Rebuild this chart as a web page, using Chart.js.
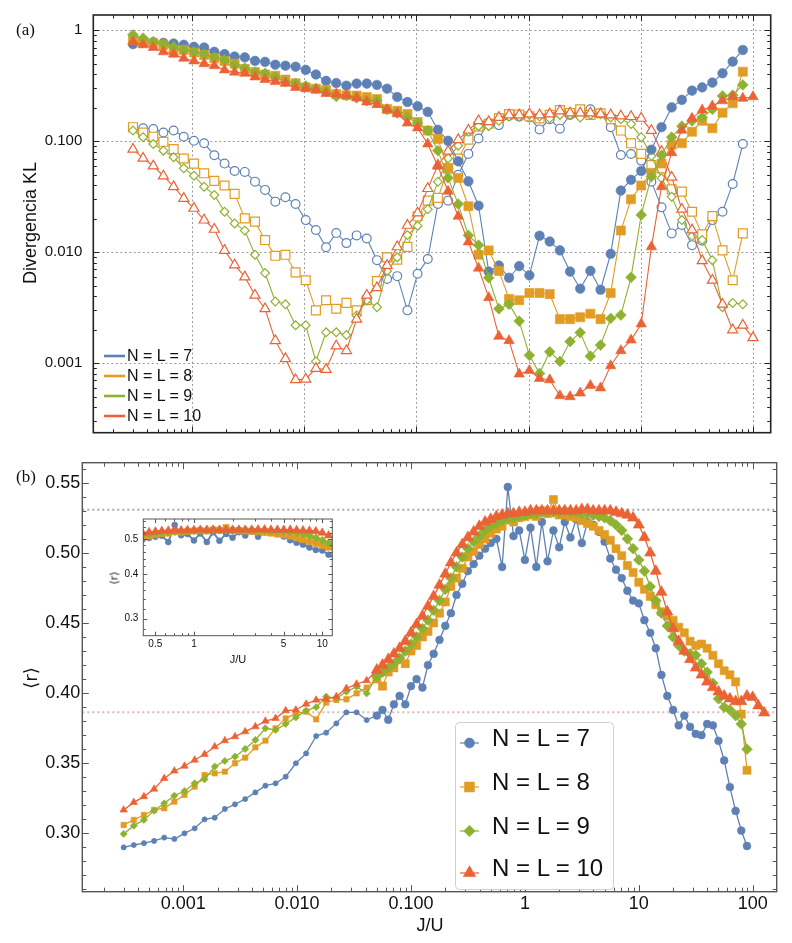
<!DOCTYPE html>
<html>
<head>
<meta charset="utf-8">
<script src="https://cdn.jsdelivr.net/npm/chart.js@4.4.1/dist/chart.umd.min.js"></script>
<style>
  body { margin: 0; background: #fff; }
  #page { position: relative; width: 792px; height: 943px; overflow: hidden;
          font-family: "Liberation Sans", Arial, Helvetica, sans-serif; color: #111; }
  canvas { position: absolute; }
  .t { position: absolute; white-space: nowrap; line-height: 1; }
  .rot { transform: translate(-50%, -50%) rotate(-90deg); }
  .ctr { transform: translate(-50%, -50%); }
  .serif { font-family: "Liberation Serif", "DejaVu Serif", serif; }
</style>
</head>
<body>
<div id="page">
  <canvas id="ca" width="792" height="445" style="left:0;top:0"></canvas>
  <canvas id="cb" width="792" height="498" style="left:0;top:445px"></canvas>
  <canvas id="ci" width="240" height="170" style="left:100px;top:505px"></canvas>

  <div class="t serif" style="left:16px;top:21px;font-size:17px">(a)</div>
  <div class="t serif" style="left:16px;top:468px;font-size:17px">(b)</div>
  <div class="t rot" style="left:30px;top:223px;font-size:18px">Divergencia KL</div>
  <div class="t rot" style="left:31px;top:678px;font-size:18px;font-family:'DejaVu Sans','Liberation Sans',sans-serif">⟨r⟩</div>
  <div class="t ctr" style="left:430px;top:925px;font-size:18px">J/U</div>
  <div class="t ctr" style="left:238px;top:659px;font-size:11px">J/U</div>
  <div class="t rot" style="left:114px;top:578px;font-size:11px;font-family:'DejaVu Sans','Liberation Sans',sans-serif">⟨r⟩</div>

  <div class="t" style="left:127px;top:348px;font-size:16px">N = L = 7</div>
  <div class="t" style="left:127px;top:368px;font-size:16px">N = L = 8</div>
  <div class="t" style="left:127px;top:388px;font-size:16px">N = L = 9</div>
  <div class="t" style="left:127px;top:408px;font-size:16px">N = L = 10</div>

  <div class="t" style="left:492px;top:726px;font-size:24px">N = L = 7</div>
  <div class="t" style="left:492px;top:770px;font-size:24px">N = L = 8</div>
  <div class="t" style="left:492px;top:814px;font-size:24px">N = L = 9</div>
  <div class="t" style="left:492px;top:856px;font-size:24px">N = L = 10</div>
</div>

<script>
var C7 = '#5E81B5', C8 = '#E19C24', C9 = '#8FB131', C10 = '#EB6235';
var SANS = '"Liberation Sans", Arial, Helvetica, sans-serif';

// ---- panel (a): KL divergence, J/U grid ----
var xa = [0.000300, 0.000369, 0.000455, 0.000560, 0.000690, 0.000850, 0.001047, 0.00129, 0.00159, 0.00196,
  0.00241, 0.00297, 0.00366, 0.00450, 0.00555, 0.00683, 0.00841, 0.01036, 0.01276, 0.01572,
  0.01936, 0.02385, 0.0294, 0.0362, 0.0446, 0.0549, 0.0676, 0.0833, 0.1026, 0.1264,
  0.1556, 0.1917, 0.236, 0.2907, 0.358, 0.441, 0.543, 0.669, 0.824, 1.015,
  1.250, 1.540, 1.897, 2.336, 2.877, 3.544, 4.365, 5.376, 6.622, 8.156,
  10.05, 12.38, 15.24, 18.77, 23.12, 28.48, 35.08, 43.21, 53.21, 65.54, 80.72, 99.4];

var klFilled7 = [0.75, 0.77, 0.78, 0.77, 0.76, 0.74, 0.71, 0.70, 0.64, 0.61, 0.58, 0.57, 0.53, 0.52, 0.49, 0.48, 0.47, 0.44, 0.40, 0.35,
  0.335, 0.317, 0.331, 0.331, 0.322, 0.298, 0.251, 0.226, 0.207, 0.184, 0.127, 0.101, 0.066, 0.0436, 0.0263, 0.0067, 0.0076, 0.0059, 0.0075, 0.0062,
  0.0141, 0.0125, 0.0104, 0.0067, 0.0047, 0.0068, 0.0046, 0.0097, 0.036, 0.045, 0.054, 0.084, 0.134, 0.202, 0.236, 0.286, 0.306, 0.338, 0.41, 0.522, 0.665];
var klFilled8 = [0.82, 0.79, 0.77, 0.74, 0.67, 0.665, 0.63, 0.60, 0.56, 0.53, 0.50, 0.45, 0.42, 0.40, 0.39, 0.36, 0.333, 0.306, 0.298, 0.29,
  0.267, 0.26, 0.258, 0.25, 0.24, 0.195, 0.188, 0.176, 0.149, 0.125, 0.105, 0.0575, 0.0468, 0.026, 0.0095, 0.0104, 0.0068, 0.0038, 0.0037, 0.0043,
  0.0043, 0.0042, 0.0025, 0.0025, 0.0026, 0.0028, 0.0025, 0.0043, 0.0157, 0.030, 0.040, 0.052, 0.063, 0.093, 0.096, 0.122, 0.153, 0.131, 0.181, 0.22, 0.424];
var klFilled9 = [0.91, 0.85, 0.79, 0.76, 0.71, 0.665, 0.64, 0.61, 0.57, 0.54, 0.49, 0.455, 0.42, 0.41, 0.38, 0.345, 0.333, 0.315, 0.30, 0.28,
  0.254, 0.258, 0.246, 0.232, 0.232, 0.193, 0.18, 0.164, 0.146, 0.125, 0.0824, 0.0468, 0.0272, 0.0142, 0.0116, 0.0059, 0.0031, 0.0034, 0.0024, 0.00118,
  0.00081, 0.00127, 0.00104, 0.00157, 0.00189, 0.00116, 0.00146, 0.00254, 0.00272, 0.00595, 0.0217, 0.048, 0.075, 0.109, 0.137, 0.153, 0.164, 0.194, 0.256, 0.26, 0.322];
var klFilled10 = [0.79, 0.74, 0.70, 0.64, 0.61, 0.56, 0.53, 0.50, 0.48, 0.44, 0.42, 0.41, 0.38, 0.36, 0.345, 0.333, 0.306, 0.30, 0.29, 0.27,
  0.267, 0.26, 0.246, 0.226, 0.214, 0.193, 0.177, 0.146, 0.132, 0.0946, 0.0595, 0.0355, 0.0211, 0.0124, 0.0072, 0.0039, 0.00175, 0.0016, 0.0008, 0.00086,
  0.00073, 0.00071, 0.00051, 0.0005, 0.00054, 0.00063, 0.0006, 0.00095, 0.0013, 0.00162, 0.00226, 0.0112, 0.039, 0.079, 0.126, 0.161, 0.191, 0.208, 0.232, 0.252, 0.244, 0.252];

var klOpen7 = [0.131, 0.131, 0.129, 0.12, 0.125, 0.11, 0.101, 0.096, 0.075, 0.063, 0.054, 0.053, 0.0433, 0.0365, 0.0286, 0.0313, 0.0272, 0.0195, 0.0159, 0.0111,
  0.0149, 0.0121, 0.0142, 0.0133, 0.0085, 0.00575, 0.0061, 0.0030, 0.0064, 0.0087, 0.0272, 0.0292, 0.05, 0.077, 0.106, 0.147, 0.14, 0.169, 0.167, 0.164,
  0.128, 0.158, 0.13, 0.173, 0.185, 0.194, 0.179, 0.134, 0.0753, 0.0769, 0.067, 0.0433, 0.0254, 0.0148, 0.0176, 0.0116, 0.0127, 0.0195, 0.0232, 0.0413, 0.0946];
var klOpen8 = [0.134, 0.12, 0.11, 0.099, 0.085, 0.070, 0.063, 0.0515, 0.044, 0.040, 0.0336, 0.0202, 0.0189, 0.0129, 0.0093, 0.0095, 0.0066, 0.0056, 0.0030, 0.0037,
  0.0031, 0.0035, 0.0030, 0.0037, 0.0055, 0.009, 0.0086, 0.0112, 0.0211, 0.0292, 0.0309, 0.0567, 0.0698, 0.1035, 0.136, 0.144, 0.162, 0.176, 0.174, 0.168,
  0.161, 0.173, 0.191, 0.18, 0.194, 0.173, 0.179, 0.158, 0.125, 0.096, 0.077, 0.061, 0.057, 0.037, 0.0352, 0.0232, 0.0145, 0.0212, 0.0104, 0.0056, 0.0148];
var klOpen9 = [0.125, 0.109, 0.0946, 0.0824, 0.0718, 0.0571, 0.049, 0.039, 0.0329, 0.0232, 0.0182, 0.0157, 0.0095, 0.0065, 0.0036, 0.0034, 0.0022, 0.0022, 0.00104, 0.0019,
  0.0019, 0.0018, 0.0027, 0.0037, 0.0032, 0.0068, 0.009, 0.0143, 0.0173, 0.0244, 0.0433, 0.070, 0.0914, 0.122, 0.137, 0.137, 0.153, 0.167, 0.167, 0.173,
  0.167, 0.161, 0.173, 0.173, 0.164, 0.173, 0.175, 0.164, 0.158, 0.143, 0.109, 0.0738, 0.0464, 0.0317, 0.0195, 0.014, 0.0129, 0.0085, 0.0032, 0.0035, 0.0034];
var klOpen10 = [0.0847, 0.0703, 0.060, 0.0487, 0.039, 0.0306, 0.0249, 0.0195, 0.0161, 0.0104, 0.0077, 0.006, 0.0041, 0.0031, 0.0016, 0.0011, 0.00071, 0.00072, 0.0009, 0.00088,
  0.00143, 0.0013, 0.0025, 0.0041, 0.0048, 0.0076, 0.0112, 0.0175, 0.0226, 0.0375, 0.0608, 0.0813, 0.1035, 0.1256, 0.153, 0.15, 0.164, 0.173, 0.173, 0.176,
  0.173, 0.176, 0.188, 0.18, 0.18, 0.18, 0.176, 0.173, 0.169, 0.167, 0.161, 0.125, 0.0808, 0.0474, 0.0244, 0.0159, 0.0084, 0.0056, 0.0034, 0.002, 0.0022, 0.0017];

var klTicks = [0.001, 0.01, 0.1, 1];
var klTickLabels = ['0.001', '0.010', '0.100', '1'];
var jDecades = [0.001, 0.01, 0.1, 1, 10, 100];

// ---- panel (b): <r>, sparse part then dense part ----
var xSparse = [0.000300, 0.000368, 0.000452, 0.000555, 0.000681, 0.000836, 0.001026, 0.00126, 0.00154, 0.00189,
  0.00232, 0.00285, 0.00350, 0.00430, 0.00527, 0.00647, 0.00794, 0.00975, 0.0120, 0.0147,
  0.0180, 0.0221, 0.0271, 0.0333, 0.0408];
var xDense = [0.0501, 0.0562, 0.0631, 0.0708, 0.0794, 0.0891, 0.100, 0.112, 0.126, 0.141, 0.158, 0.178, 0.200, 0.224, 0.251, 0.282,
  0.316, 0.355, 0.398, 0.447, 0.501, 0.562, 0.631, 0.708, 0.794, 0.891, 1.00, 1.12, 1.26, 1.41, 1.58, 1.78, 2.00, 2.24, 2.51, 2.82,
  3.16, 3.55, 3.98, 4.47, 5.01, 5.62, 6.31, 7.08, 7.94, 8.91, 10.0, 11.2, 12.6, 14.1, 15.8, 17.8, 20.0, 22.4, 25.1, 28.2,
  31.6, 35.5, 39.8, 44.7, 50.1, 56.2, 63.1, 70.8, 79.4, 89.1, 100, 112, 126];

var r7Sparse = [0.290, 0.2917, 0.293, 0.2946, 0.297, 0.296, 0.300, 0.3036, 0.310, 0.3112, 0.3174, 0.3207, 0.3245, 0.3292, 0.334, 0.3357,
  0.3404, 0.350, 0.357, 0.3694, 0.3718, 0.3784, 0.3863, 0.3863, 0.3808];
var r8Sparse = [0.306, 0.3096, 0.3131, 0.3167, 0.3179, 0.3226, 0.3274, 0.3333, 0.3416, 0.3428, 0.344, 0.350, 0.354, 0.3613, 0.3661, 0.3749,
  0.382, 0.3856, 0.3868, 0.3813, 0.3932, 0.3951, 0.3956, 0.3998, 0.4039];
var r9Sparse = [0.2996, 0.3055, 0.3096, 0.3162, 0.3214, 0.3269, 0.3302, 0.3357, 0.3385, 0.3476, 0.3516, 0.3547, 0.3602, 0.3666, 0.3749, 0.3737,
  0.378, 0.3827, 0.3875, 0.39, 0.3975, 0.3963, 0.401, 0.4046, 0.3998];
var r10Sparse = [0.3167, 0.3221, 0.3262, 0.3316, 0.3392, 0.3445, 0.348, 0.3523, 0.3564, 0.3618, 0.3661, 0.369, 0.3725, 0.3761, 0.3801, 0.382,
  0.3875, 0.388, 0.3922, 0.3951, 0.3958, 0.3975, 0.4034, 0.4065, 0.4089];

var r7Dense = [0.384, 0.388, 0.381, 0.392, 0.398, 0.392, 0.405, 0.41, 0.404, 0.42, 0.428, 0.438, 0.448, 0.457, 0.47, 0.478, 0.487, 0.492, 0.498, 0.503,
  0.507, 0.51, 0.49, 0.547, 0.512, 0.516, 0.495, 0.518, 0.49, 0.522, 0.494, 0.516, 0.504, 0.522, 0.511, 0.524, 0.507, 0.522, 0.52, 0.515,
  0.508, 0.496, 0.488, 0.482, 0.473, 0.466, 0.464, 0.452, 0.443, 0.432, 0.413, 0.398, 0.388, 0.377, 0.384, 0.376, 0.371, 0.37, 0.378, 0.377,
  0.366, 0.352, 0.333, 0.316, 0.302, 0.291];
var r8Dense = [0.41, 0.405, 0.415, 0.418, 0.424, 0.421, 0.43, 0.434, 0.44, 0.444, 0.45, 0.457, 0.465, 0.476, 0.482, 0.489, 0.497, 0.501, 0.506, 0.51,
  0.514, 0.517, 0.519, 0.524, 0.522, 0.525, 0.526, 0.527, 0.526, 0.53, 0.528, 0.538, 0.527, 0.527, 0.526, 0.525, 0.523, 0.521, 0.519, 0.516,
  0.513, 0.509, 0.503, 0.498, 0.491, 0.486, 0.479, 0.474, 0.469, 0.463, 0.458, 0.455, 0.452, 0.447, 0.443, 0.437, 0.434, 0.435, 0.432, 0.427,
  0.421, 0.416, 0.413, 0.408, 0.385, 0.345];
var r9Dense = [0.412, 0.415, 0.418, 0.421, 0.425, 0.43, 0.435, 0.44, 0.446, 0.452, 0.459, 0.466, 0.474, 0.482, 0.49, 0.497, 0.503, 0.508, 0.512, 0.516,
  0.519, 0.521, 0.523, 0.524, 0.525, 0.526, 0.527, 0.528, 0.528, 0.529, 0.529, 0.529, 0.529, 0.53, 0.529, 0.529, 0.528, 0.528, 0.527, 0.526,
  0.525, 0.523, 0.52, 0.516, 0.51, 0.503, 0.495, 0.487, 0.476, 0.466, 0.457, 0.448, 0.44, 0.434, 0.43, 0.428, 0.427, 0.421, 0.415, 0.407,
  0.396, 0.39, 0.388, 0.384, 0.378, 0.36];
var r10Dense = [0.4165, 0.42, 0.424, 0.428, 0.432, 0.437, 0.443, 0.449, 0.455, 0.462, 0.469, 0.477, 0.485, 0.493, 0.50, 0.506, 0.511, 0.515, 0.519, 0.522,
  0.524, 0.526, 0.527, 0.528, 0.528, 0.529, 0.529, 0.53, 0.53, 0.53, 0.53, 0.53, 0.53, 0.53, 0.53, 0.53, 0.531, 0.531, 0.53, 0.53,
  0.53, 0.53, 0.529, 0.528, 0.527, 0.525, 0.52, 0.511, 0.50, 0.487, 0.472, 0.458, 0.446, 0.437, 0.43, 0.424, 0.418, 0.413, 0.408, 0.404,
  0.401, 0.398, 0.396, 0.394, 0.394, 0.398, 0.397, 0.391, 0.386];

var rTicks = [0.30, 0.35, 0.40, 0.45, 0.50, 0.55];
var rTickLabels = ['0.30', '0.35', '0.40', '0.45', '0.50', '0.55'];
var jTickLabels = ['0.001', '0.010', '0.100', '1', '10', '100'];
var goeValue = 0.5307, poissonValue = 0.3863;

var insetXTicks = [0.5, 1, 5, 10];
var insetXLabels = ['0.5', '1', '5', '10'];
var insetYTicks = [0.3, 0.4, 0.5];
var insetYLabels = ['0.3', '0.4', '0.5'];

var legendNames = ['N = L = 7', 'N = L = 8', 'N = L = 9', 'N = L = 10'];

// ---- helpers ----
function pts(xs, ys) {
  return ys.map(function (v, i) { return { x: xs[i], y: v }; });
}

function within(xs, ys, lo, hi) {
  var out = [];
  ys.forEach(function (v, i) { if (xs[i] >= lo && xs[i] <= hi) out.push({ x: xs[i], y: v }); });
  return out;
}

function series(label, data, color, style, r, open, lw) {
  return {
    label: label, data: data, borderColor: color, backgroundColor: color,
    borderWidth: lw, pointStyle: style, pointRadius: r, pointHoverRadius: r,
    pointBackgroundColor: open ? '#fff' : color, pointBorderColor: color,
    pointBorderWidth: open ? 1.2 : 0.6, fill: false, tension: 0
  };
}

function logMinors(min, max) {
  var out = [];
  for (var e = Math.floor(Math.log10(min)); e <= Math.ceil(Math.log10(max)); e++) {
    for (var m = 2; m <= 9; m++) {
      var v = m * Math.pow(10, e);
      if (v > min && v < max) out.push(v);
    }
  }
  return out;
}

function stepList(a, b, step, skip) {
  var out = [];
  for (var v = a; v <= b + 1e-9; v += step) {
    var r = Math.round(v * 1000) / 1000;
    if (skip.indexOf(r) < 0) out.push(r);
  }
  return out;
}

function guidesPlugin(o) {
  return {
    id: 'guides',
    beforeDatasetsDraw: function (chart) {
      var ctx = chart.ctx, a = chart.chartArea, x = chart.scales.x, y = chart.scales.y;
      ctx.save();
      if (o.fill) {
        ctx.fillStyle = '#fff';
        ctx.fillRect(a.left, a.top, a.right - a.left, a.bottom - a.top);
      }
      ctx.lineWidth = 1;
      ctx.strokeStyle = '#9a9a9a';
      ctx.setLineDash([2, 2.5]);
      (o.gridX || []).forEach(function (v) {
        var px = Math.round(x.getPixelForValue(v)) + 0.5;
        ctx.beginPath(); ctx.moveTo(px, a.top); ctx.lineTo(px, a.bottom); ctx.stroke();
      });
      (o.gridY || []).forEach(function (v) {
        var py = Math.round(y.getPixelForValue(v)) + 0.5;
        ctx.beginPath(); ctx.moveTo(a.left, py); ctx.lineTo(a.right, py); ctx.stroke();
      });
      (o.refs || []).forEach(function (r) {
        var py = y.getPixelForValue(r.value);
        ctx.strokeStyle = r.color; ctx.lineWidth = 2; ctx.setLineDash([2, 3]);
        ctx.beginPath(); ctx.moveTo(a.left, py); ctx.lineTo(a.right, py); ctx.stroke();
      });
      ctx.restore();
    },
    afterDatasetsDraw: function (chart) {
      var ctx = chart.ctx, a = chart.chartArea, x = chart.scales.x, y = chart.scales.y;
      ctx.save();
      ctx.strokeStyle = o.color;
      ctx.lineWidth = 1;
      ctx.beginPath();
      [[o.xMajor, o.major], [o.xMinor, o.minor]].forEach(function (p) {
        p[0].forEach(function (v) {
          var px = Math.round(x.getPixelForValue(v)) + 0.5;
          if (px < a.left || px > a.right) return;
          ctx.moveTo(px, a.bottom); ctx.lineTo(px, a.bottom - p[1]);
          ctx.moveTo(px, a.top); ctx.lineTo(px, a.top + p[1]);
        });
      });
      [[o.yMajor, o.major], [o.yMinor, o.minor]].forEach(function (p) {
        p[0].forEach(function (v) {
          var py = Math.round(y.getPixelForValue(v)) + 0.5;
          if (py < a.top || py > a.bottom) return;
          ctx.moveTo(a.left, py); ctx.lineTo(a.left + p[1], py);
          ctx.moveTo(a.right, py); ctx.lineTo(a.right - p[1], py);
        });
      });
      ctx.stroke();
      ctx.lineWidth = o.frameWidth;
      ctx.strokeRect(a.left, a.top, a.right - a.left, a.bottom - a.top);
      ctx.restore();
      if (o.after) o.after(chart);
    }
  };
}

function marker(ctx, style, x, y, r) {
  ctx.beginPath();
  if (style === 'circle') {
    ctx.arc(x, y, r, 0, Math.PI * 2);
  } else if (style === 'rect') {
    var s = r * Math.SQRT1_2;
    ctx.rect(x - s, y - s, 2 * s, 2 * s);
  } else if (style === 'rectRot') {
    ctx.moveTo(x, y - r); ctx.lineTo(x + r, y); ctx.lineTo(x, y + r); ctx.lineTo(x - r, y); ctx.closePath();
  } else {
    for (var k = 0; k < 3; k++) {
      var ang = k * 2 * Math.PI / 3;
      var px = x + Math.sin(ang) * r, py = y - Math.cos(ang) * r;
      if (k === 0) ctx.moveTo(px, py); else ctx.lineTo(px, py);
    }
    ctx.closePath();
  }
  ctx.fill();
  ctx.stroke();
}

// fixed axis box: exact width (or height), no extra label padding
function axisCfg(ticks, labels, size, pad, vertical, box) {
  return {
    afterFit: function (s) {
      if (vertical) { s.width = box; } else { s.height = box; }
      s.paddingTop = 0; s.paddingBottom = 0; s.paddingLeft = 0; s.paddingRight = 0;
    },
    afterBuildTicks: function (s) { s.ticks = ticks.map(function (v) { return { value: v }; }); },
    ticks: {
      display: labels !== null,
      callback: function (v) { var i = ticks.indexOf(v); return (i < 0 || !labels) ? '' : labels[i]; },
      font: { family: SANS, size: size }, color: '#111', padding: pad, autoSkip: false, maxRotation: 0
    },
    grid: { display: false, drawTicks: false }, border: { display: false }
  };
}

function mergeAxis(base, extra) {
  for (var k in extra) base[k] = extra[k];
  return base;
}

Chart.defaults.font.family = SANS;

var colors = [C7, C8, C9, C10];

// ---- panel (a) ----
var legendA = function (chart) {
  var ctx = chart.ctx;
  ctx.save();
  ctx.lineWidth = 2.6;
  [356, 376, 396, 416].forEach(function (y, i) {
    ctx.strokeStyle = colors[i];
    ctx.beginPath(); ctx.moveTo(104, y); ctx.lineTo(125, y); ctx.stroke();
  });
  ctx.restore();
};

new Chart(document.getElementById('ca'), {
  type: 'line',
  data: {
    datasets: [
      series(legendNames[3], pts(xa, klFilled10), C10, 'triangle', 6, false, 1.1),
      series(legendNames[2], pts(xa, klFilled9), C9, 'rectRot', 5.4, false, 1.1),
      series(legendNames[1], pts(xa, klFilled8), C8, 'rect', 6.4, false, 1.1),
      series(legendNames[0], pts(xa, klFilled7), C7, 'circle', 4.8, false, 1.1),
      series(legendNames[3], pts(xa, klOpen10), C10, 'triangle', 5.8, true, 1.1),
      series(legendNames[2], pts(xa, klOpen9), C9, 'rectRot', 4.4, true, 1.1),
      series(legendNames[1], pts(xa, klOpen8), C8, 'rect', 6.3, true, 1.1),
      series(legendNames[0], pts(xa, klOpen7), C7, 'circle', 4.4, true, 1.1)
    ]
  },
  options: {
    responsive: false, animation: false, devicePixelRatio: 1,
    layout: { padding: { left: 0, top: 15, right: 21.3, bottom: 0 } },
    plugins: { legend: { display: false }, tooltip: { enabled: false } },
    scales: {
      x: mergeAxis({ type: 'logarithmic', min: 1.33e-4, max: 142.9 },
        axisCfg(jDecades, null, 15, 0, false, 12.3)),
      y: mergeAxis({ type: 'logarithmic', min: 2.37e-4, max: 1.374, position: 'left' },
        axisCfg(klTicks, klTickLabels, 15, 11, true, 93.3))
    }
  },
  plugins: [guidesPlugin({
    gridX: jDecades, gridY: klTicks, color: '#222', frameWidth: 1.6, major: 6, minor: 3.5,
    xMajor: jDecades, xMinor: logMinors(1.33e-4, 142.9),
    yMajor: klTicks, yMinor: logMinors(2.37e-4, 1.374),
    after: legendA
  })]
});

// ---- panel (b) ----
var styleB = [
  { color: C7, style: 'circle', r: 2.6, lr: 5 },
  { color: C8, style: 'rect', r: 3.8, lr: 7 },
  { color: C9, style: 'rectRot', r: 3.6, lr: 5.8 },
  { color: C10, style: 'triangle', r: 4.3, lr: 7.2 }
];
var rAll = [
  r7Sparse.concat(r7Dense), r8Sparse.concat(r8Dense), r9Sparse.concat(r9Dense), r10Sparse.concat(r10Dense)
];
var xAll = xSparse.concat(xDense);
var nSparse = xSparse.length;

var legendB = function (chart) {
  var ctx = chart.ctx;
  ctx.save();
  ctx.fillStyle = '#fff';
  ctx.strokeStyle = '#cfcfcf';
  ctx.lineWidth = 1;
  ctx.beginPath();
  if (ctx.roundRect) ctx.roundRect(455.5, 277.5, 158, 167, 4); else ctx.rect(455.5, 277.5, 158, 167);
  ctx.fill(); ctx.stroke();
  [298, 342, 386, 428].forEach(function (y, i) {
    var s = styleB[i];
    ctx.strokeStyle = s.color; ctx.fillStyle = s.color; ctx.lineWidth = 1.2;
    ctx.beginPath(); ctx.moveTo(460, y); ctx.lineTo(479, y); ctx.stroke();
    ctx.lineWidth = 0.6;
    marker(ctx, s.style, 469.5, y, s.lr);
  });
  ctx.restore();
};

var dsB = [3, 2, 1, 0].map(function (i) {
  var s = styleB[i];
  var radii = xAll.map(function (v, k) { return k < nSparse ? s.r : s.r * 1.5; });
  var d = series(legendNames[i], pts(xAll, rAll[i]), s.color, s.style, radii, false, 1.3);
  d.pointHoverRadius = radii;
  return d;
});

new Chart(document.getElementById('cb'), {
  type: 'line',
  data: { datasets: dsB },
  options: {
    responsive: false, animation: false, devicePixelRatio: 1,
    layout: { padding: { left: 0, top: 17.7, right: 15.3, bottom: 0 } },
    plugins: { legend: { display: false }, tooltip: { enabled: false } },
    scales: {
      x: mergeAxis({ type: 'logarithmic', min: 1.30e-4, max: 162.5 },
        axisCfg(jDecades, jTickLabels, 18, 2, false, 51.3)),
      y: mergeAxis({ type: 'linear', min: 0.2584, max: 0.5643, position: 'left' },
        axisCfg(rTicks, rTickLabels, 18, 2, true, 82.3))
    }
  },
  plugins: [guidesPlugin({
    refs: [{ value: goeValue, color: '#a9a9a9' }, { value: poissonValue, color: '#e2b6b6' }],
    color: '#555', frameWidth: 1.4, major: 6.5, minor: 4,
    xMajor: jDecades, xMinor: logMinors(1.30e-4, 162.5),
    yMajor: rTicks, yMinor: stepList(0.26, 0.56, 0.01, rTicks),
    after: legendB
  })]
});

// ---- inset ----
var dsI = [3, 2, 1, 0].map(function (i) {
  var s = styleB[i];
  return series(legendNames[i], within(xAll, rAll[i], 0.35, 14), s.color, s.style, s.r * 1.15, false, 1.8);
});

new Chart(document.getElementById('ci'), {
  type: 'line',
  data: { datasets: dsI },
  options: {
    responsive: false, animation: false, devicePixelRatio: 1,
    layout: { padding: { left: 0, top: 14, right: 7.7, bottom: 0 } },
    plugins: { legend: { display: false }, tooltip: { enabled: false } },
    scales: {
      x: mergeAxis({ type: 'logarithmic', min: 0.403, max: 11.97 },
        axisCfg(insetXTicks, insetXLabels, 10, 3, false, 39.3)),
      y: mergeAxis({ type: 'logarithmic', min: 0.269, max: 0.568, position: 'left' },
        axisCfg(insetYTicks, insetYLabels, 10, 5, true, 43.3))
    }
  },
  plugins: [guidesPlugin({
    fill: true, color: '#555', frameWidth: 1, major: 4, minor: 2.5,
    xMajor: insetXTicks, xMinor: logMinors(0.403, 11.97).filter(function (v) { return v !== 5; }),
    yMajor: insetYTicks, yMinor: [0.28, 0.32, 0.34, 0.36, 0.38, 0.42, 0.44, 0.46, 0.48, 0.52, 0.54, 0.56]
  })]
});
</script>
</body>
</html>
